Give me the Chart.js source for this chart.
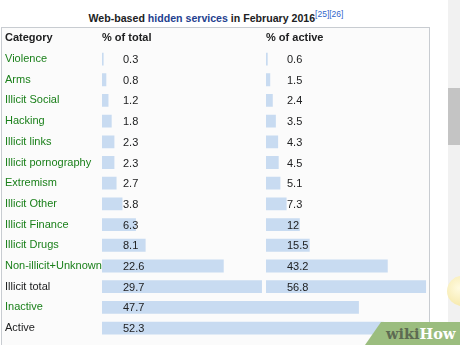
<!DOCTYPE html>
<html>
<head>
<meta charset="utf-8">
<script src="https://cdn.jsdelivr.net/npm/chart.js@4"></script>
<style>
  body { margin: 0; background: #fff; font-family: "Liberation Sans", Arial, sans-serif; }
  #wrap { position: relative; width: 460px; height: 345px; overflow: hidden; }
  #frame { position: absolute; left: 1px; top: 27px; width: 427px; height: 340px;
           border: 1px solid #c8ccd1; background: #fbfbfb; }
  #title { position: absolute; left: 0; top: 9px; width: 432px; text-align: center;
           font-weight: bold; font-size: 10.6px; color: #202122; }
  #title .link { color: #1f3f8f; }
  #title sup { font-size: 8.5px; font-weight: normal; color: #3366cc; }
  #bar { position: absolute; left: 448px; top: 0; width: 12px; height: 345px; background: #f1f1f1; }
  #thumb { position: absolute; left: 448px; top: 88px; width: 12px; height: 57px; background: #c4c4c4; }
  #sun { position: absolute; left: 447px; top: 276px; width: 30px; height: 30px; border-radius: 50%;
         background: radial-gradient(circle at 40% 40%, #fffbe0, #f3e39a); }
  #logo { position: absolute; left: 365px; top: 322px; width: 95px; height: 23px;
          background: #9bbd7f; clip-path: polygon(16px 0, 100% 0, 100% 100%, 0 100%); }
  #logo > span { position: absolute; left: 21px; top: 3px; font: bold 14.5px "DejaVu Serif", serif; }
  #logo .w { color: #5d6b52; }
  #logo .h { color: #fff; }
  canvas { position: absolute; left: 0; top: 0; }
</style>
</head>
<body>
<div id="wrap">
  <div id="frame"></div>
  <div id="title">Web-based <span class="link">hidden services</span> in February 2016<sup>[25][26]</sup></div>
  <div id="bar"></div>
  <div id="thumb"></div>
  <div id="sun"></div>
  <canvas id="chart" width="460" height="345"></canvas>
  <div id="logo"><span><span class="w">wiki</span><span class="h">How</span></span></div>
</div>
<script>
const headers = ['Category', '% of total', '% of active'];
const categories = [
  'Violence', 'Arms', 'Illicit Social', 'Hacking', 'Illicit links',
  'Illicit pornography', 'Extremism', 'Illicit Other', 'Illicit Finance',
  'Illicit Drugs', 'Non-illicit+Unknown', 'Illicit total', 'Inactive', 'Active'
];
const pctTotal = [0.3, 0.8, 1.2, 1.8, 2.3, 2.3, 2.7, 3.8, 6.3, 8.1, 22.6, 29.7, 47.7, 52.3];
const pctActive = [0.6, 1.5, 2.4, 3.5, 4.3, 4.5, 5.1, 7.3, 12, 15.5, 43.2, 56.8, null, null];
// rows whose label is plain text, not a link
const plainRows = ['Illicit total', 'Active'];

const FONT = '"Liberation Sans", Arial, sans-serif';
const TEXT = '#202122';
const GREEN = '#1b801b';
const BAR = '#c8dbf1';

// header cells and the numbers next to the bars
const cellText = {
  id: 'cellText',
  afterDatasetsDraw(chart) {
    const c = chart.ctx;
    const y = chart.scales.y;
    const cols = [chart.scales.xt, chart.scales.xa];
    c.save();
    c.textBaseline = 'middle';
    c.textAlign = 'left';
    c.fillStyle = TEXT;
    c.font = 'bold 11px ' + FONT;
    cols.forEach((s, i) => c.fillText(headers[i + 1], s.getPixelForValue(0), y.getPixelForValue(0)));
    c.font = '11px ' + FONT;
    chart.data.datasets.forEach((ds, i) => {
      const x0 = cols[i].getPixelForValue(0) + 21;
      ds.data.forEach((v, j) => {
        if (v == null) return;
        c.fillText(String(v), x0, y.getPixelForValue(j) + 1);
      });
    });
    c.restore();
  }
};

const barStyle = { backgroundColor: BAR, grouped: false, barPercentage: 0.62, categoryPercentage: 1 };

new Chart(document.getElementById('chart'), {
  type: 'bar',
  data: {
    labels: [headers[0], ...categories],
    datasets: [
      { label: headers[1], data: [null, ...pctTotal], xAxisID: 'xt', ...barStyle },
      { label: headers[2], data: [null, ...pctActive], xAxisID: 'xa', ...barStyle }
    ]
  },
  options: {
    indexAxis: 'y',
    responsive: false,
    animation: false,
    layout: { padding: { top: 28, left: 5, right: 30, bottom: 0 } },
    plugins: { legend: { display: false }, tooltip: { enabled: false } },
    scales: {
      y: {
        grid: { display: false },
        border: { display: false },
        afterFit: (scale) => { scale.width = 97; },
        ticks: {
          crossAlign: 'far',
          padding: 0,
          color: (ctx) => {
            const lbl = ctx.index === 0 ? headers[0] : categories[ctx.index - 1];
            return (ctx.index === 0 || plainRows.includes(lbl)) ? TEXT : GREEN;
          },
          font: (ctx) => ({ family: FONT, size: 11, weight: ctx.index === 0 ? 'bold' : 'normal' })
        }
      },
      xt: { display: false, min: 0, max: 60.9 },
      xa: { display: false, min: -58.2, max: 58.2 }
    }
  },
  plugins: [cellText]
});
</script>
</body>
</html>
